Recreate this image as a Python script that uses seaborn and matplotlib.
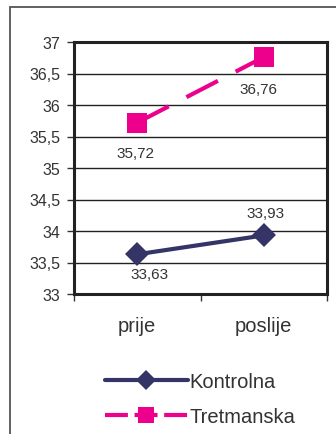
import matplotlib
matplotlib.use("Agg")
import matplotlib.pyplot as plt
from matplotlib.patches import Rectangle
from matplotlib.lines import Line2D
from matplotlib.ticker import FuncFormatter, FixedLocator
import pandas as pd
import seaborn as sns

# Measurements before/after for the two groups
periods = ["prije", "poslije"]
kontrolna = [33.63, 33.93]
tretmanska = [35.72, 36.76]
groups = ["Kontrolna", "Tretmanska"]

df = pd.DataFrame({
    "period": periods * 2,
    "value": kontrolna + tretmanska,
    "group": [groups[0]] * 2 + [groups[1]] * 2,
})

sns.set_theme(style="white")
plt.rcParams["font.family"] = ["Liberation Sans", "DejaVu Sans"]

NAVY = "#343466"
PINK = "#EC008C"
TEXT = "#333333"

fig = plt.figure(figsize=(3.36, 4.35), dpi=100)
fig.patch.set_facecolor("white")
ax = fig.add_axes([74 / 336, 1 - 295 / 435, 253 / 336, 252 / 435])

sns.lineplot(
    data=df, x="period", y="value", hue="group", style="group",
    palette={groups[0]: NAVY, groups[1]: PINK},
    markers={groups[0]: "D", groups[1]: "s"},
    dashes={groups[0]: "", groups[1]: (8.5, 4.8)},
    markersize=11, linewidth=3.0, markeredgewidth=0,
    sort=False, ax=ax, legend=False,
)
for line in ax.get_lines():
    if line.get_marker() == "D":
        line.set_markersize(12)
    else:
        line.set_markersize(15)

ax.set_xlim(-0.5, 1.5)
ax.set_ylim(33, 37)
ax.set_xlabel("")
ax.set_ylabel("")

# y axis: grid every 0.5 with comma decimals
yt = [33 + 0.5 * i for i in range(9)]
ax.yaxis.set_major_locator(FixedLocator(yt))
ax.yaxis.set_major_formatter(FuncFormatter(
    lambda v, p: (f"{v:g}").replace(".", ",")))
ax.grid(axis="y", color="#222222", linewidth=1.0)
ax.grid(axis="x", visible=False)
ax.set_axisbelow(True)

# x axis: labels at category centres, tick marks between categories
ax.xaxis.set_minor_locator(FixedLocator([-0.5, 0.5, 1.5]))
ax.tick_params(axis="x", which="major", length=0, pad=16,
               labelsize=14.5, labelcolor=TEXT)
ax.tick_params(axis="x", which="minor", length=5, width=1,
               color="#333333", direction="out", bottom=True)
ax.tick_params(axis="y", which="major", length=5, width=1,
               color="#333333", direction="out", left=True,
               labelsize=11.5, labelcolor=TEXT, pad=5)

for s in ax.spines.values():
    s.set_color("#222222")
    s.set_linewidth(2.2)

# value labels
def lab(x, y, dx, dy):
    ax.annotate(f"{y:.2f}".replace(".", ","), (x, y),
                xytext=(dx, dy), textcoords="offset points",
                ha="center", va="center", fontsize=11, color=TEXT)

lab(0, kontrolna[0], 9, -14)
lab(1, kontrolna[1], 1, 16)
lab(0, tretmanska[0], -1, -22)
lab(1, tretmanska[1], -4, -23)

# legend below the plot
handles = [
    Line2D([], [], color=NAVY, lw=3.0, marker="D", markersize=10,
           markeredgewidth=0),
    Line2D([], [], color=PINK, lw=3.0, marker="s", markersize=12,
           markeredgewidth=0, dashes=(5.5, 1.6)),
]
fig.legend(handles, groups, loc="center left",
           bbox_to_anchor=(105 / 336, 1 - 400 / 435),
           frameon=False, handlelength=4.1, handletextpad=0.1,
           labelspacing=0.75, fontsize=14.5, labelcolor=TEXT,
           borderaxespad=0, borderpad=0)

# outer chart frame
fig.patches.append(Rectangle((10 / 336, -0.1), 1.2, 0.1 + 1 - 8 / 435,
                             transform=fig.transFigure, fill=False,
                             edgecolor="#555555", linewidth=1.3))

fig.savefig("out.png", dpi=100)
